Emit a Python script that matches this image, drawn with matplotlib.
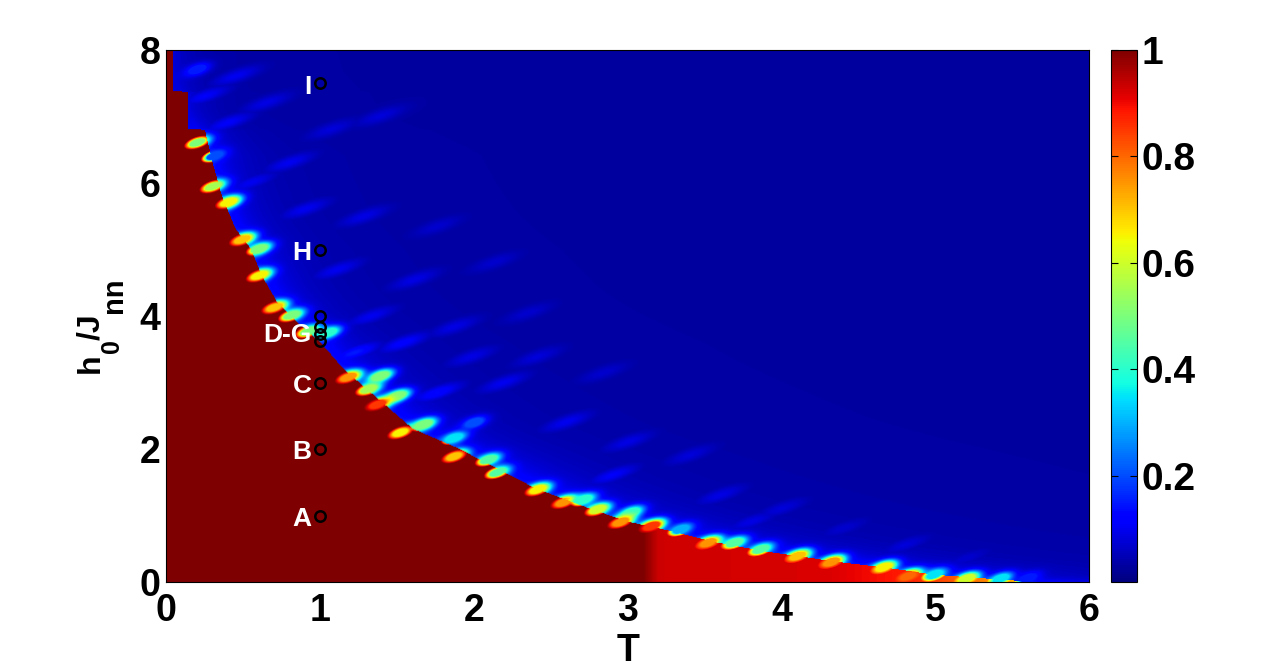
import numpy as np
import matplotlib
matplotlib.use('Agg')
import matplotlib.pyplot as plt

plt.rcParams['font.family'] = ['Liberation Sans', 'DejaVu Sans']

# ---------------- data ----------------
x_ticks = [0, 1, 2, 3, 4, 5, 6]
y_ticks = [0, 2, 4, 6, 8]
cbar_ticks = [0.2, 0.4, 0.6, 0.8, 1.0]
cbar_labels = ['0.2', '0.4', '0.6', '0.8', '1']

# phase boundary (edge of the red region): h value -> T value
boundary_h = [8.0, 7.38, 7.36, 6.81, 6.79, 6.3, 5.8, 5.3, 5.0, 4.6, 4.2, 3.9, 3.6,
              3.2, 2.9, 2.6, 2.3, 2.0, 1.7, 1.4, 1.1, 0.9, 0.75, 0.6, 0.45, 0.3,
              0.2, 0.1, 0.05, 0.0]
boundary_T = [0.04, 0.04, 0.14, 0.14, 0.25, 0.3, 0.36, 0.45, 0.55, 0.62, 0.72, 0.85,
              1.0, 1.15, 1.3, 1.45, 1.6, 1.9, 2.15, 2.4, 2.75, 3.0, 3.3, 3.55, 3.9,
              4.35, 4.7, 5.0, 5.3, 5.6]

# strength of the blue glow above the edge, by h
glow_h = [0.0, 6.4, 7.0, 8.0]
glow_amp = [1.0, 1.0, 0.55, 0.45]

# level of the ordered (red) region along T
red_T = [0.0, 3.1, 3.2, 4.3, 4.8, 5.2, 5.6]
red_val = [1.0, 1.0, 0.93, 0.92, 0.88, 0.8, 0.7]

# bright spots along the boundary (T, h, value)
spot_T = [0.20, 0.30, 0.40, 0.49, 0.60, 0.60, 0.70, 0.81, 0.92, 1.05, 1.18, 1.39,
          1.31, 1.50, 1.37, 1.52, 1.67, 1.87, 2.00, 1.87, 2.09, 2.15, 2.41, 2.58,
          2.71, 2.80, 3.02, 2.95, 3.15, 3.34, 3.52, 3.69, 3.86, 4.10, 4.32, 4.66,
          4.82, 4.99, 5.20, 5.42, 5.60, 0.31, 0.20]
spot_h = [6.60, 5.94, 5.70, 5.14, 5.00, 4.60, 4.12, 4.00, 3.76, 3.74, 3.07, 3.09,
          2.89, 2.79, 2.66, 2.24, 2.36, 2.16, 2.39, 1.88, 1.83, 1.64, 1.38, 1.19,
          1.23, 1.08, 1.04, 0.89, 0.83, 0.78, 0.58, 0.58, 0.48, 0.38, 0.29, 0.21,
          0.08, 0.10, 0.04, 0.04, 0.05, 6.40, 7.70]
spot_v = [0.50, 0.55, 0.65, 0.70, 0.50, 0.65, 0.70, 0.50, 0.50, 0.40, 0.75, 0.50,
          0.55, 0.50, 0.85, 0.65, 0.50, 0.35, 0.20, 0.70, 0.45, 0.45, 0.65, 0.75,
          0.40, 0.60, 0.40, 0.75, 0.85, 0.30, 0.75, 0.45, 0.45, 0.70, 0.75, 0.65,
          0.80, 0.35, 0.60, 0.35, 0.15, 0.20, 0.15]

# faint lighter-blue streaks in the disordered region (T, h, value)
streak_T = [1.39, 1.07, 1.28, 1.76, 1.11, 1.61, 2.13, 1.33, 1.87, 2.35, 1.22, 1.54,
            1.98, 2.41, 2.84, 1.76, 2.19, 0.45, 0.65, 0.80, 0.40, 0.55, 2.60, 3.00,
            3.40, 2.90, 3.60, 4.00, 4.40, 3.80, 4.80, 5.20, 0.25, 0.90]
streak_h = [7.00, 6.80, 5.49, 5.34, 4.69, 4.54, 4.80, 3.99, 3.83, 4.04, 3.44, 3.59,
            3.38, 3.38, 3.14, 2.84, 2.99, 7.60, 7.20, 6.30, 6.90, 6.00, 2.40, 2.10,
            1.90, 1.60, 1.30, 1.10, 0.80, 0.90, 0.55, 0.35, 7.30, 5.60]
streak_v = [0.08, 0.08, 0.09, 0.07, 0.10, 0.09, 0.07, 0.10, 0.09, 0.07, 0.15, 0.12,
            0.09, 0.08, 0.07, 0.13, 0.10, 0.10, 0.09, 0.10, 0.11, 0.10, 0.10, 0.09,
            0.08, 0.11, 0.09, 0.08, 0.07, 0.09, 0.08, 0.07, 0.11, 0.10]

# labelled points
pt_T = [1, 1, 1, 1, 1, 1, 1, 1, 1]
pt_h = [1.0, 2.0, 3.0, 4.0, 3.83, 3.73, 3.62, 5.0, 7.5]
lab_text = ['A', 'B', 'C', 'D-G', 'H', 'I']
lab_h = [0.95, 1.95, 2.95, 3.72, 4.95, 7.45]

# ---------------- build the map ----------------
nT, nh = 923, 532
T = np.linspace(0, 6, nT)
h = np.linspace(0, 8, nh)
TT, HH = np.meshgrid(T, h)
Tb1 = np.interp(h, boundary_h[::-1], boundary_T[::-1])
k = 41
pad = np.concatenate([np.full(k // 2, Tb1[0]), Tb1, np.full(k // 2, Tb1[-1])])
Ts1 = np.convolve(pad, np.ones(k) / k, mode='valid')
Tb = Tb1[:, None] * np.ones_like(TT)
Ts = Ts1[:, None] * np.ones_like(TT)
amp = np.interp(HH, glow_h, glow_amp)
below = TT < Tb
red = np.interp(TT, red_T, red_val)
d = np.clip((TT - np.maximum(Ts, Tb)) / (0.35 + 0.25 * Ts), 0, None)
blue = 0.03 + amp * (0.085 * np.exp(-d / 0.3) + 0.02 * np.exp(-d / 1.5))

th = np.deg2rad(18)
def blob(t0, h0, sx, sy):
    u = (TT - t0) * 153.8
    v = (HH - h0) * 66.5
    ur = u * np.cos(th) + v * np.sin(th)
    vr = -u * np.sin(th) + v * np.cos(th)
    return np.exp(-0.5 * (ur / sx) ** 2 - 0.5 * (vr / sy) ** 2)

for t0, h0, v0 in zip(streak_T, streak_h, streak_v):
    g = blob(t0, h0, 18.0, 4.5)
    blue = np.maximum(blue, 0.03 + (v0 - 0.03) * g)

Z = np.where(below, red, blue)
for t0, h0, v0 in zip(spot_T, spot_h, spot_v):
    g = blob(t0, h0, 9.0, 3.8)
    a = np.where(below, np.clip(2.4 * g - 0.7, 0, 1), np.clip(1.6 * g, 0, 1))
    Z = Z * (1 - a) + v0 * a

# ---------------- plot ----------------
W, H = 1280, 671
fig = plt.figure(figsize=(W / 100, H / 100), dpi=100)
ax = fig.add_axes([0.1297, 0.1326, 0.7214, 0.7929])
im = ax.imshow(Z, origin='lower', extent=[0, 6, 0, 8], aspect='auto',
               cmap='jet', vmin=0, vmax=1, interpolation='bilinear')
ax.plot(pt_T, pt_h, 'o', mfc='none', mec='black', ms=7.5, mew=1.8)
for s, y in zip(lab_text, lab_h):
    ax.text(0.945, y, s, color='white', fontsize=19, fontweight='bold',
            ha='right', va='center')
ax.set_xlim(0, 6)
ax.set_ylim(0, 8)
ax.set_xticks(x_ticks)
ax.set_yticks(y_ticks)
ax.set_xticklabels([str(v) for v in x_ticks])
ax.set_yticklabels([str(v) for v in y_ticks])
ax.tick_params(labelsize=27, length=0)
ax.tick_params(axis='x', pad=8)
ax.tick_params(axis='y', pad=4)
for lbl in ax.get_xticklabels() + ax.get_yticklabels():
    lbl.set_fontweight('bold')
ax.set_xlabel('T', fontsize=27, fontweight='bold', labelpad=3)

# y label h_0/J_nn built from pieces (MATLAB-style low subscripts)
renderer = fig.canvas.get_renderer()
y_cur = H - 373
x_base = 99
for s, fs, off in [('h', 23, 0), ('0', 18, 20), ('/J', 23, 0), ('nn', 21, 23)]:
    t = fig.text((x_base + off) / W, y_cur / H, s, rotation=90,
                 rotation_mode='anchor', ha='left', va='baseline',
                 fontsize=fs, fontweight='bold')
    bb = t.get_window_extent(renderer)
    y_cur += bb.height

cax = fig.add_axes([0.868, 0.1326, 0.0203, 0.7929])
cb = fig.colorbar(im, cax=cax)
cb.set_ticks(cbar_ticks)
cb.set_ticklabels(cbar_labels)
cax.tick_params(direction='in', labelsize=28, length=5, left=True, right=True, pad=3)
for lbl in cax.get_yticklabels():
    lbl.set_fontweight('bold')
cb.outline.set_linewidth(0.8)

fig.savefig('out.png', dpi=100)
